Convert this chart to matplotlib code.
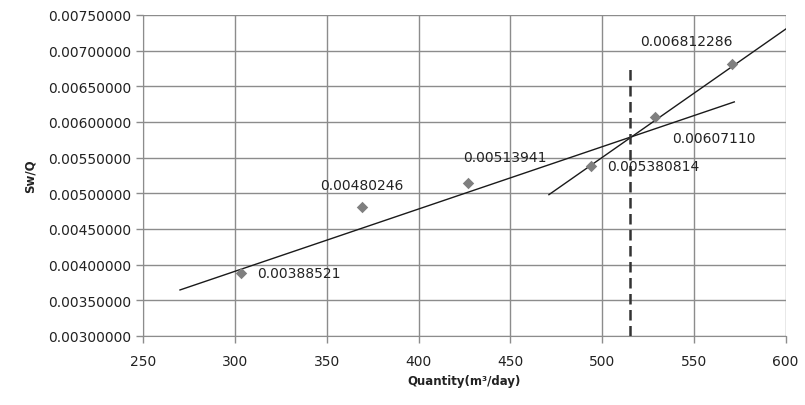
import numpy as np
import matplotlib
matplotlib.use('Agg')
import matplotlib.pyplot as plt

# data
quantity = [303, 369, 427, 494, 529, 571]
sw_q = [0.00388521, 0.00480246, 0.00513941, 0.005380814, 0.00607110, 0.006812286]
point_labels = ['0.00388521', '0.00480246', '0.00513941', '0.005380814', '0.00607110', '0.006812286']

# two trend lines (endpoints) and the dashed break line
trend1_x = [270, 572]
trend1_y = [0.003645, 0.00628]
trend2_x = [471, 600]
trend2_y = [0.00498, 0.00730]
break_x = 515
break_y = [0.0030, 0.00674]

# label offsets in pixels (dx, dy up, ha)
label_offsets = [(17, 0, 'left'), (0, 22, 'center'), (-5, 26, 'left'),
                 (16, 0, 'left'), (17, -21, 'left'), (-46, 23, 'center')]

fig = plt.figure(figsize=(8.05, 4.06), dpi=100)
ax = fig.add_axes([0.178, 0.170, 0.798, 0.791])

grid_c = '#8c8c8c'
ax.plot(trend1_x, trend1_y, color='#1a1a1a', lw=1.0, zorder=3)
ax.plot(trend2_x, trend2_y, color='#1a1a1a', lw=1.0, zorder=3)
ax.plot([break_x, break_x], break_y, color='#333333', lw=1.8, ls=(0, (4.2, 2.2)), zorder=3)
ax.scatter(quantity, sw_q, marker='D', s=34, color='#7f7f7f', zorder=4, linewidths=0)

for x, y, lab, (dx, dy, ha) in zip(quantity, sw_q, point_labels, label_offsets):
    ax.annotate(lab, (x, y), xytext=(dx, dy), textcoords='offset pixels',
                ha=ha, va='center', fontsize=10, color='#222222', zorder=5)

ax.set_xlim(250, 600)
ax.set_ylim(0.003, 0.0075)
ax.set_xticks(np.arange(250, 601, 50))
ax.set_yticks(np.arange(0.003, 0.00751, 0.0005))
ax.set_yticklabels(['%.8f' % v for v in np.arange(0.003, 0.00751, 0.0005)])
ax.grid(True, color=grid_c, lw=1.0)
ax.set_axisbelow(True)
for s in ['top', 'right']:
    ax.spines[s].set_visible(False)
for s in ['left', 'bottom']:
    ax.spines[s].set_color(grid_c)
ax.tick_params(axis='both', colors=grid_c, labelcolor='#222222', labelsize=10, length=5, width=1)
ax.tick_params(axis='x', pad=8)

ax.set_xlabel('Quantity(m\u00b3/day)', fontsize=8.5, fontweight='bold', color='#222222', labelpad=4)
ax.set_ylabel('Sw/Q', fontsize=8.5, fontweight='bold', color='#222222', labelpad=8)

fig.savefig('out.png', dpi=100)
